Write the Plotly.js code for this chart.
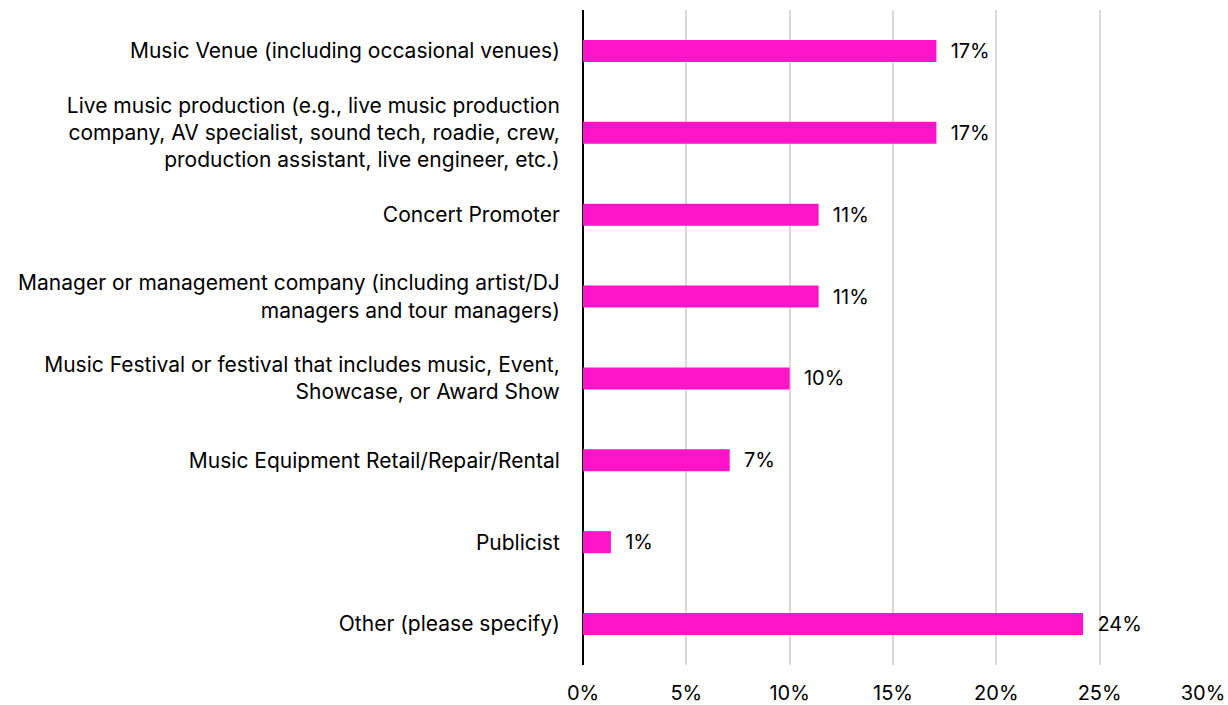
<!DOCTYPE html>
<html>
<head>
<meta charset="utf-8">
<script src="https://cdn.plot.ly/plotly-3.0.1.min.js"></script>
<style>html,body{margin:0;padding:0;background:#fff;}#chart{width:1228px;height:705px;}</style>
</head>
<body>
<div id="chart"></div>
<script>
const categories = [
  "Music Venue (including occasional venues)",
  "Live music production (e.g., live music production<br>company, AV specialist, sound tech, roadie, crew,<br>production assistant, live engineer, etc.)",
  "Concert Promoter",
  "Manager or management company (including artist/DJ<br>managers and tour managers)",
  "Music Festival or festival that includes music, Event,<br>Showcase, or Award Show",
  "Music Equipment Retail/Repair/Rental",
  "Publicist",
  "Other (please specify)"
];
const values = [17.1, 17.1, 11.4, 11.4, 10.0, 7.1, 1.35, 24.2];
const labels = ["17%", "17%", "11%", "11%", "10%", "7%", "1%", "24%"];
const tickVals = [0, 5, 10, 15, 20, 25, 30];
const tickText = ["0%", "5%", "10%", "15%", "20%", "25%", "30%"];

const FONT = "Inter, 'Open Sans', sans-serif";

const trace = {
  type: "bar",
  orientation: "h",
  y: categories,
  x: values,
  text: labels.map(t => "  " + t),
  textposition: "outside",
  constraintext: "none",
  cliponaxis: false,
  textfont: {family: FONT, size: 20, color: "#000"},
  marker: {color: "#FF14C8"},
  hoverinfo: "x+y"
};

const layout = {
  width: 1228, height: 705,
  margin: {l: 583, r: 25, t: 10, b: 40},
  paper_bgcolor: "#fff", plot_bgcolor: "#fff",
  bargap: 0.73,
  showlegend: false,
  font: {family: FONT, size: 20, color: "#000"},
  xaxis: {
    range: [0, 30],
    tickvals: tickVals, ticktext: tickText,
    showgrid: true, gridcolor: "#d9d9d9", gridwidth: 2,
    zeroline: true, zerolinecolor: "#000", zerolinewidth: 2,
    showline: false,
    ticks: "outside", ticklen: 10, tickcolor: "rgba(0,0,0,0)",
    tickfont: {family: FONT, size: 20, color: "#000"}
  },
  yaxis: {
    autorange: "reversed",
    showgrid: false, zeroline: false, showline: false,
    ticks: "outside", ticklen: 18, tickcolor: "rgba(0,0,0,0)",
    tickfont: {family: FONT, size: 21, color: "#000"}
  }
};

Plotly.newPlot("chart", [trace], layout, {displayModeBar: false, staticPlot: true});
</script>
</body>
</html>
